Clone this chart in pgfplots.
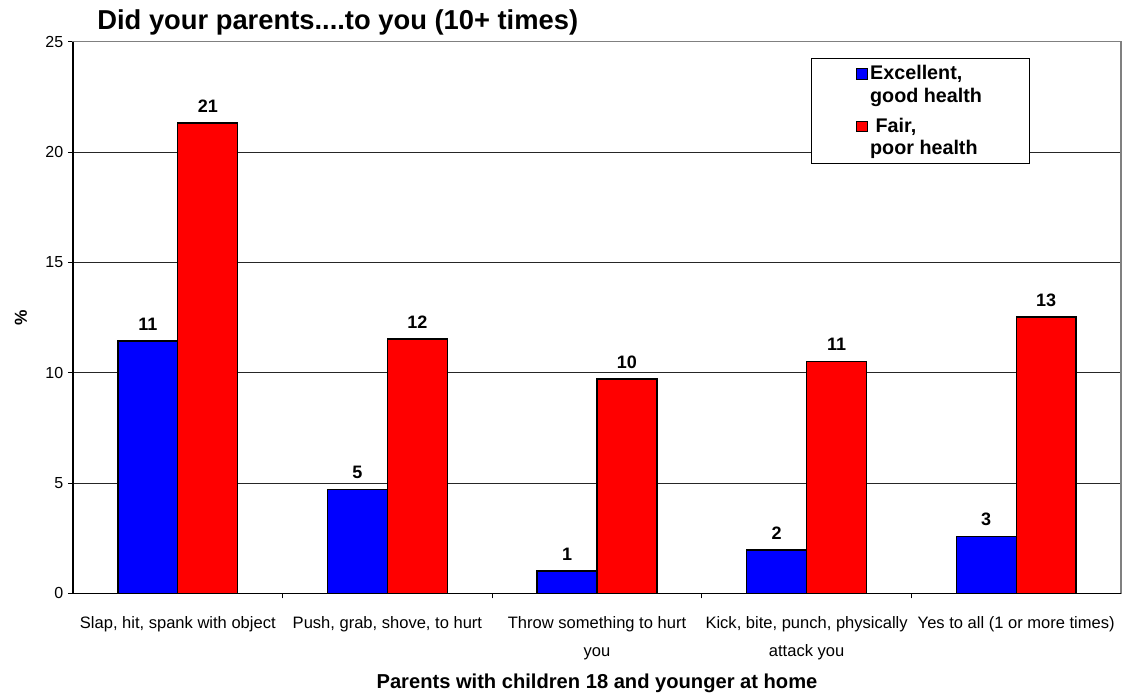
\documentclass[border=0pt]{standalone}
\usepackage{fontspec}
\setmainfont{Liberation Sans}
\usepackage{pgfplots}
\pgfplotsset{compat=1.18}

\definecolor{goodblue}{RGB}{0,0,255}
\definecolor{poorred}{RGB}{255,0,0}
\definecolor{framegray}{RGB}{128,128,128}

\begin{document}
\begin{tikzpicture}
\begin{axis}[
  name=ax,
  scale only axis,
  width=786pt, height=413.7pt,
  xmin=-0.5, xmax=4.5,
  ymin=0, ymax=25,
  ybar=0pt, bar width=0.286,
  ytick={0,5,...,25},
  ymajorgrids,
  grid style={black!85, line width=0.7pt},
  axis line style={framegray, line width=1pt},
  tick align=outside,
  tick pos=left,
  major tick length=3.75pt,
  tick style={black, line width=0.7pt},
  xtick={0.5,1.5,2.5,3.5},
  xticklabels={},
  extra x ticks={0,1,2,3,4},
  extra x tick labels={{Slap, hit, spank with object},
                       {Push, grab, shove, to hurt},
                       {Throw something to hurt\\you},
                       {Kick, bite, punch, physically\\attack you},
                       {Yes to all (1 or more times)}},
  extra x tick style={major tick length=0pt, grid=none},
  xticklabel style={font=\fontsize{12.4}{21}\selectfont, align=center, anchor=north, yshift=-13.5pt},
  yticklabel style={font=\fontsize{12}{14}\selectfont},
  /pgf/number format/assume math mode=true,
  title={Did your parents....to you (10+ times)},
  title style={font=\bfseries\fontsize{20.5}{24}\selectfont, at={(axis description cs:0.0188,1.0085)}, anchor=base west},
  xlabel={Parents with children 18 and younger at home},
  xlabel style={font=\bfseries\fontsize{15.1}{18}\selectfont, at={(axis description cs:0.5,-0.1720)}, anchor=base},
  ylabel={\%},
  ylabel style={font=\bfseries\fontsize{13}{15}\selectfont, at={(axis description cs:-0.0496,0.5)}, anchor=center},
  nodes near coords={\pgfmathprintnumber[fixed,precision=0]{\pgfplotspointmeta}},
  every node near coord/.append style={font=\bfseries\fontsize{13.5}{16}\selectfont, black, anchor=south, yshift=4pt},
  legend style={at={(axis description cs:0.704,0.970)}, anchor=north west,
    draw=black, line width=0.7pt, fill=white,
    font=\bfseries\fontsize{14.8}{17}\selectfont,
    inner xsep=33.5pt, inner ysep=3pt,
    cells={align=left, line width=0.7pt},
    row sep=6pt},
  legend cell align=left,
  legend image code/.code={\draw[#1, draw=black, line width=0.7pt] (0pt,4.1pt) rectangle (8pt,12.1pt);},
]
% good / excellent self-rated health
\addplot[fill=goodblue, draw=black, line width=1pt]
  coordinates {(0,11.43) (1,4.72) (2,1.01) (3,1.96) (4,2.59)};
\addlegendentry{Excellent,\\good health}
% fair / poor self-rated health
\addplot[fill=poorred, draw=black, line width=1pt]
  coordinates {(0,21.31) (1,11.52) (2,9.71) (3,10.51) (4,12.52)};
\addlegendentry{\ Fair,\\poor health}
\end{axis}
% left and bottom axis lines in black over the gray frame
\draw[black, line width=1pt] (ax.north west) -- (ax.south west) -- (ax.south east);
\pgfresetboundingbox
\useasboundingbox ([shift={(-54.75pt,-77pt)}]ax.south west) rectangle ([shift={(7.5pt,31.3pt)}]ax.north east);
\end{tikzpicture}
\end{document}
